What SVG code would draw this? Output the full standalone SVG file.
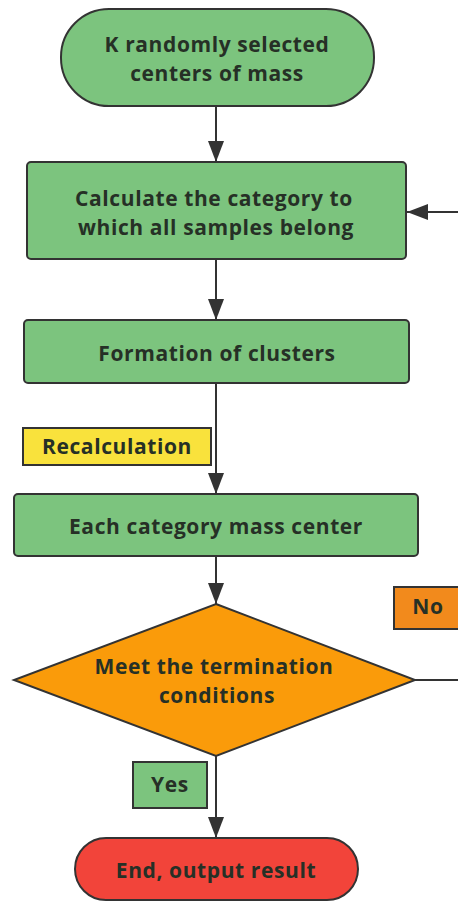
<svg xmlns="http://www.w3.org/2000/svg" width="458" height="902" viewBox="0 0 458 902">
<style>
.g{fill:#7cc47e;stroke:#333;stroke-width:2}
.t{font-family:"Open Sans","Noto Sans",sans-serif;font-weight:bold;font-size:21px;letter-spacing:0.6px;fill:#263026;text-anchor:middle;dominant-baseline:central}
.c{fill:none;stroke:#333;stroke-width:2}
</style>
<defs>
<marker id="a" markerWidth="21" markerHeight="16" refX="21" refY="8" viewBox="0 0 21 16" markerUnits="userSpaceOnUse" orient="auto">
<path d="M0,0 L21,8 L0,16 Z" fill="#333"/>
</marker>
</defs>
<rect width="458" height="902" fill="#fff"/>
<g id="connectors">
<line class="c" x1="216" y1="106" x2="216" y2="162" marker-end="url(#a)"/>
<line class="c" x1="216" y1="259" x2="216" y2="320" marker-end="url(#a)"/>
<line class="c" x1="216" y1="383" x2="216" y2="494" marker-end="url(#a)"/>
<line class="c" x1="216" y1="556" x2="216" y2="604" marker-end="url(#a)"/>
<line class="c" x1="216" y1="756" x2="216" y2="838" marker-end="url(#a)"/>
<path class="c" d="M415,680 H470 V212 H407" marker-end="url(#a)"/>
</g>
<g id="start">
<rect class="g" x="61" y="9" width="313" height="97" rx="48"/>
<text class="t" x="217" y="44">K randomly selected</text>
<text class="t" x="217" y="73">centers of mass</text>
</g>
<g id="calc">
<rect class="g" x="27" y="162" width="379" height="97" rx="4"/>
<text class="t" x="214" y="198">Calculate the category to</text>
<text class="t" x="216" y="227">which all samples belong</text>
</g>
<g id="form">
<rect class="g" x="24" y="320" width="385" height="63" rx="4"/>
<text class="t" x="217" y="353">Formation of clusters</text>
</g>
<g id="recalc">
<rect x="23" y="428" width="188" height="37" fill="#f9e23c" stroke="#333" stroke-width="2"/>
<text class="t" x="117" y="446">Recalculation</text>
</g>
<g id="each">
<rect class="g" x="14" y="494" width="404" height="62" rx="4"/>
<text class="t" x="216" y="526">Each category mass center</text>
</g>
<g id="no">
<rect x="394" y="587" width="70" height="42" fill="#f28a1c" stroke="#333" stroke-width="2"/>
<text class="t" x="428" y="606">No</text>
</g>
<g id="decision">
<polygon points="216,604 415,680 216,756 14,680" fill="#fa9b0a" stroke="#333" stroke-width="2"/>
<text class="t" x="214" y="666">Meet the termination</text>
<text class="t" x="217" y="695">conditions</text>
</g>
<g id="yes">
<rect x="133" y="762" width="74" height="46" fill="#7cc47e" stroke="#333" stroke-width="2"/>
<text class="t" x="170" y="784">Yes</text>
</g>
<g id="end">
<rect x="75" y="838" width="283" height="62" rx="31" fill="#f2443a" stroke="#333" stroke-width="2"/>
<text class="t" x="216" y="870">End, output result</text>
</g>
</svg>
